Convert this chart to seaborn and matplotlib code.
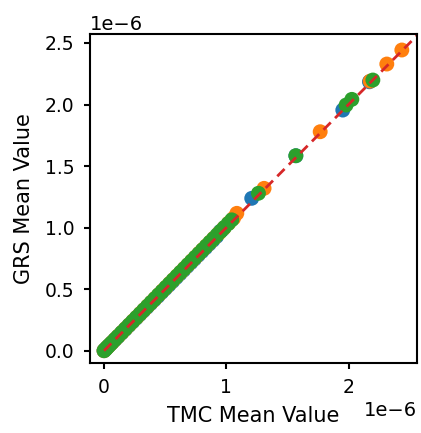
import matplotlib
matplotlib.use("Agg")
import matplotlib.pyplot as plt
import seaborn as sns
import pandas as pd

# Mean values in units of 1e-6 for three runs
run_a_tmc = [0.0, 0.012, 0.025, 0.04, 0.06, 0.085, 0.11, 0.14, 0.17, 0.2, 0.23, 0.26,
             0.29, 0.32, 0.35, 0.38, 0.41, 0.44, 0.47, 0.5, 0.53, 0.56, 0.59, 0.62,
             0.65, 0.68, 0.71, 0.74, 0.77, 0.8, 0.83, 0.86, 0.89, 0.92, 0.949, 0.97,
             1.208, 1.569, 1.953, 2.171]
run_a_grs = [0.0, 0.012, 0.026, 0.041, 0.061, 0.086, 0.111, 0.141, 0.171, 0.202, 0.232, 0.262,
             0.292, 0.322, 0.352, 0.382, 0.412, 0.442, 0.473, 0.503, 0.533, 0.563, 0.594, 0.624,
             0.654, 0.685, 0.715, 0.745, 0.776, 0.806, 0.836, 0.867, 0.897, 0.928, 0.967, 0.985,
             1.238, 1.584, 1.955, 2.185]

run_b_tmc = [0.0, 0.015, 0.03, 0.05, 0.07, 0.095, 0.12, 0.15, 0.18, 0.21, 0.24, 0.27,
             0.3, 0.33, 0.36, 0.39, 0.42, 0.45, 0.48, 0.51, 0.54, 0.57, 0.6, 0.63,
             0.66, 0.69, 0.72, 0.75, 0.78, 0.81, 0.84, 0.87, 0.9, 0.94, 0.98, 1.02,
             1.06, 1.086, 1.309, 1.768, 2.177, 2.313, 2.436]
run_b_grs = [0.0, 0.015, 0.031, 0.051, 0.071, 0.097, 0.122, 0.152, 0.183, 0.213, 0.244, 0.274,
             0.305, 0.335, 0.366, 0.396, 0.427, 0.457, 0.488, 0.518, 0.549, 0.579, 0.61, 0.64,
             0.671, 0.701, 0.732, 0.762, 0.793, 0.823, 0.854, 0.884, 0.915, 0.955, 0.996, 1.037,
             1.077, 1.116, 1.319, 1.779, 2.19, 2.329, 2.443]

run_c_tmc = [0.0, 0.008, 0.018, 0.03, 0.045, 0.065, 0.09, 0.115, 0.145, 0.175, 0.205, 0.235,
             0.265, 0.295, 0.325, 0.355, 0.385, 0.415, 0.445, 0.475, 0.505, 0.535, 0.565, 0.595,
             0.625, 0.655, 0.685, 0.715, 0.745, 0.775, 0.805, 0.835, 0.865, 0.895, 0.925, 0.955,
             0.985, 1.015, 1.045, 1.263, 1.569, 1.98, 2.027, 2.199]
run_c_grs = [0.0, 0.008, 0.018, 0.031, 0.046, 0.066, 0.092, 0.117, 0.148, 0.178, 0.209, 0.239,
             0.27, 0.3, 0.331, 0.361, 0.392, 0.422, 0.453, 0.483, 0.514, 0.544, 0.575, 0.605,
             0.636, 0.666, 0.697, 0.727, 0.758, 0.788, 0.819, 0.849, 0.88, 0.91, 0.941, 0.971,
             1.002, 1.032, 1.063, 1.279, 1.584, 1.996, 2.042, 2.199]

unit = 1e-6
frames = []
for name, tmc, grs in [("A", run_a_tmc, run_a_grs),
                       ("B", run_b_tmc, run_b_grs),
                       ("C", run_c_tmc, run_c_grs)]:
    frames.append(pd.DataFrame({"tmc": [v * unit for v in tmc],
                                "grs": [v * unit for v in grs],
                                "run": name}))
df = pd.concat(frames, ignore_index=True)

sns.set_style("ticks")
plt.rcParams["font.family"] = ["DejaVu Sans"]

fig = plt.figure(figsize=(4.21, 4.33), dpi=100)
ax = fig.add_axes([90 / 421, 1 - 363 / 433, 327 / 421, 329 / 433])

palette = {"A": "#1f77b4", "B": "#ff7f0e", "C": "#2ca02c"}
sns.scatterplot(data=df, x="tmc", y="grs", hue="run", palette=palette,
                s=115, edgecolor="none", alpha=1.0, legend=False, ax=ax)

ident = [0.0, 2.7e-6]
ax.plot(ident, ident, color="#d62728", linestyle="--", linewidth=2.0,
        dashes=(3.7, 2.2))

ax.set_xlim(-0.115e-6, 2.56e-6)
ax.set_ylim(-0.10e-6, 2.573e-6)
ax.set_xticks([0, 1e-6, 2e-6])
ax.set_yticks([0, 0.5e-6, 1.0e-6, 1.5e-6, 2.0e-6, 2.5e-6])

for side in ["top", "right", "left", "bottom"]:
    ax.spines[side].set_visible(True)
    ax.spines[side].set_linewidth(1.5)
    ax.spines[side].set_color("black")

ax.tick_params(axis="both", labelsize=13.5, length=4.5, width=1.5, pad=6.5,
               color="black", labelcolor="black")
ax.xaxis.get_offset_text().set_fontsize(14)
ax.yaxis.get_offset_text().set_fontsize(14)

ax.set_xlabel("TMC Mean Value", fontsize=15, color="black", labelpad=6)
ax.set_ylabel("GRS Mean Value", fontsize=15, color="black", labelpad=8)

fig.savefig("out.png", dpi=100)
